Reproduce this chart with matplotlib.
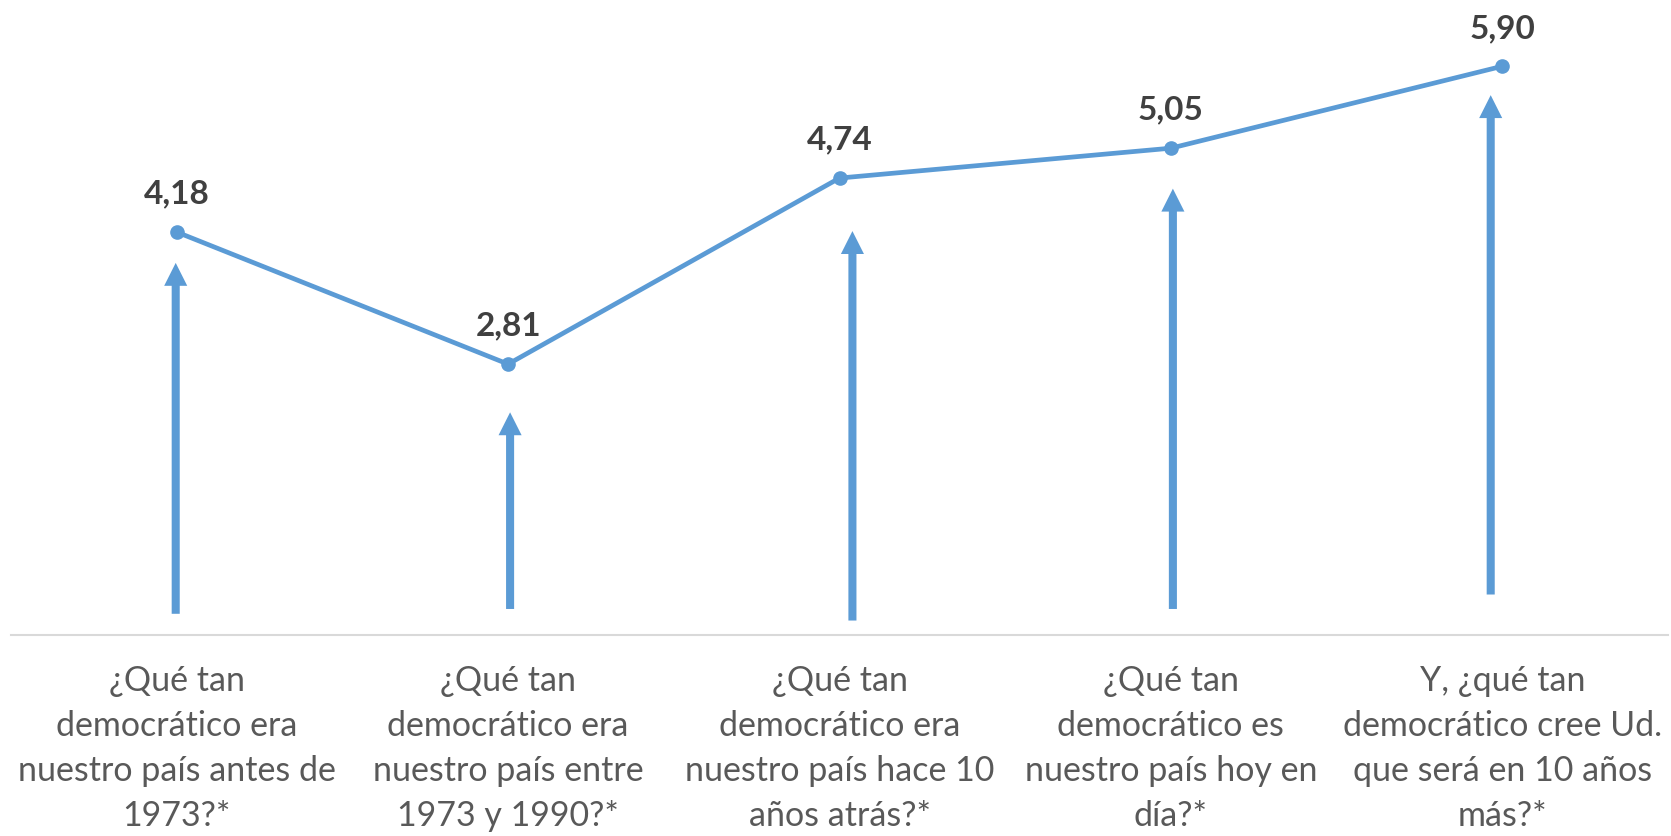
import matplotlib
matplotlib.use("Agg")
import matplotlib.pyplot as plt

categories = [
    "¿Qué tan\ndemocrático era\nnuestro país antes de\n1973?*",
    "¿Qué tan\ndemocrático era\nnuestro país entre\n1973 y 1990?*",
    "¿Qué tan\ndemocrático era\nnuestro país hace 10\naños atrás?*",
    "¿Qué tan\ndemocrático es\nnuestro país hoy en\ndía?*",
    "Y, ¿qué tan\ndemocrático cree Ud.\nque será en 10 años\nmás?*",
]
values = [4.18, 2.81, 4.74, 5.05, 5.90]
# decorative arrows under each point (value units)
arrow_tips = [3.86, 2.31, 4.19, 4.63, 5.60]
arrow_bases = [0.22, 0.27, 0.15, 0.27, 0.42]
arrow_dx = [-0.003, 0.006, 0.039, 0.006, -0.035]

BLUE = "#5B9BD5"
plt.rcParams['font.family'] = ['Lato', 'DejaVu Sans']

W, H = 1671, 837
fig = plt.figure(figsize=(W / 100, H / 100), dpi=100)
axis_y = 636
ax = fig.add_axes([11 / W, 1 - axis_y / H, (1668 - 11) / W, axis_y / H])
px_per_unit = 96.4
ax.set_ylim(0, axis_y / px_per_unit)
ax.set_xlim(-0.5, len(values) - 0.5)

x = list(range(len(values)))
for xi, tip, base, dx in zip(x, arrow_tips, arrow_bases, arrow_dx):
    ax.annotate("", xy=(xi + dx, tip), xytext=(xi + dx, base),
                arrowprops=dict(arrowstyle="simple,head_length=16.5,head_width=16.6,tail_width=5.8",
                                mutation_scale=1, color=BLUE, lw=0,
                                shrinkA=0, shrinkB=0), zorder=1)

ax.plot(x, values, color=BLUE, lw=3.4, marker="o", markersize=9.5, zorder=3,
        solid_capstyle="round")
for xi, v in zip(x, values):
    ax.annotate(f"{v:.2f}".replace(".", ","), xy=(xi, v), xytext=(0, 28),
                textcoords="offset points", ha="center", va="center",
                fontsize=24, fontweight="bold", color="#404040")

for s in ["left", "right", "top"]:
    ax.spines[s].set_visible(False)
ax.spines["bottom"].set_color("#D9D9D9")
ax.spines["bottom"].set_linewidth(1.5)
ax.set_yticks([])
ax.set_xticks(x)
ax.set_xticklabels(categories, fontsize=24.5, color="#595959", linespacing=1.5)
ax.tick_params(axis="x", length=0, pad=21)

fig.savefig("out.png", dpi=100)
